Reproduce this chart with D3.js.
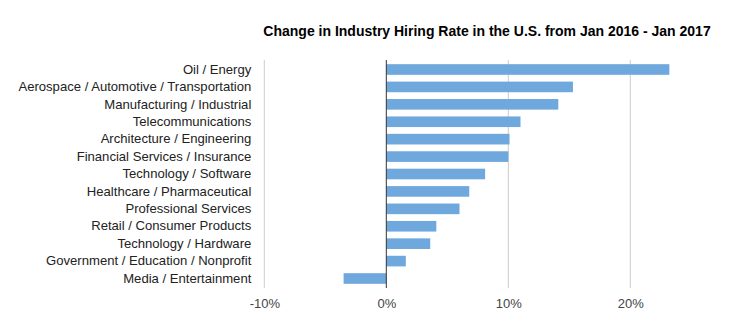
<!DOCTYPE html>
<html>
<head>
<meta charset="utf-8">
<script src="https://cdn.jsdelivr.net/npm/d3@7"></script>
<style>
  body { margin: 0; background: #fff; }
  svg { font-family: "Liberation Sans", Arial, sans-serif; }
</style>
</head>
<body>
<div class="chart"></div>
<script>
// industries, top to bottom
const industries = [
  'Oil / Energy',
  'Aerospace / Automotive / Transportation',
  'Manufacturing / Industrial',
  'Telecommunications',
  'Architecture / Engineering',
  'Financial Services / Insurance',
  'Technology / Software',
  'Healthcare / Pharmaceutical',
  'Professional Services',
  'Retail / Consumer Products',
  'Technology / Hardware',
  'Government / Education / Nonprofit',
  'Media / Entertainment'
]
// change in hiring rate, percent
const changes = [23.2, 15.3, 14.1, 11.0, 10.1, 10.0, 8.1, 6.8, 6.0, 4.1, 3.6, 1.6, -3.5]
const ticks = [-10, 0, 10, 20]

const width = 736, height = 330
const margin = { top: 60, right: 0, bottom: 42, left: 264.3 }

const svg = d3.select('.chart')
  .append('svg')
  .attr('width', width)
  .attr('height', height)

svg.append('text')
  .attr('x', 487)
  .attr('y', 36)
  .attr('text-anchor', 'middle')
  .attr('font-weight', 'bold')
  .attr('font-size', 14)
  .attr('fill', '#000')
  .text('Change in Industry Hiring Rate in the U.S. from Jan 2016 - Jan 2017')

// 122px per 10%
const x = d3.scaleLinear()
  .domain([-10, 20])
  .range([margin.left, margin.left + 366])

const y = d3.scaleBand()
  .domain(industries)
  .range([margin.top, height - margin.bottom])
  .paddingInner(0.39)
  .paddingOuter(0.24)

// gridlines
svg.append('g')
  .selectAll('line')
  .data(ticks.filter(d => d !== 0))
  .enter()
  .append('line')
  .attr('x1', d => x(d))
  .attr('x2', d => x(d))
  .attr('y1', margin.top)
  .attr('y2', height - margin.bottom)
  .attr('stroke', '#ccc')
  .attr('stroke-width', 1)

// bars
svg.append('g')
  .selectAll('rect')
  .data(changes)
  .enter()
  .append('rect')
  .attr('x', d => x(Math.min(0, d)))
  .attr('width', d => Math.abs(x(d) - x(0)))
  .attr('y', (d, i) => y(industries[i]))
  .attr('height', y.bandwidth())
  .attr('fill', '#6fa8dc')

// zero line
svg.append('line')
  .attr('x1', x(0))
  .attr('x2', x(0))
  .attr('y1', margin.top)
  .attr('y2', height - margin.bottom)
  .attr('stroke', '#333')
  .attr('stroke-width', 1)

// x axis labels
const xAxis = d3.axisBottom(x)
  .tickValues(ticks)
  .tickSize(0)
  .tickPadding(11)
  .tickFormat(d => `${d}%`)

const xAxisGroup = svg.append('g')
  .attr('transform', `translate(0, ${height - margin.bottom})`)
  .call(xAxis)
xAxisGroup.select('.domain').remove()
xAxisGroup.selectAll('text')
  .attr('font-size', 13)
  .attr('font-family', '"Liberation Sans", Arial, sans-serif')
  .attr('fill', '#444')

// category labels
const yAxis = d3.axisLeft(y)
  .tickSize(0)
  .tickPadding(13)

const yAxisGroup = svg.append('g')
  .attr('transform', `translate(${margin.left}, 0)`)
  .call(yAxis)
yAxisGroup.select('.domain').remove()
yAxisGroup.selectAll('text')
  .attr('font-size', 13.1)
  .attr('font-family', '"Liberation Sans", Arial, sans-serif')
  .attr('fill', '#222')
</script>
</body>
</html>
